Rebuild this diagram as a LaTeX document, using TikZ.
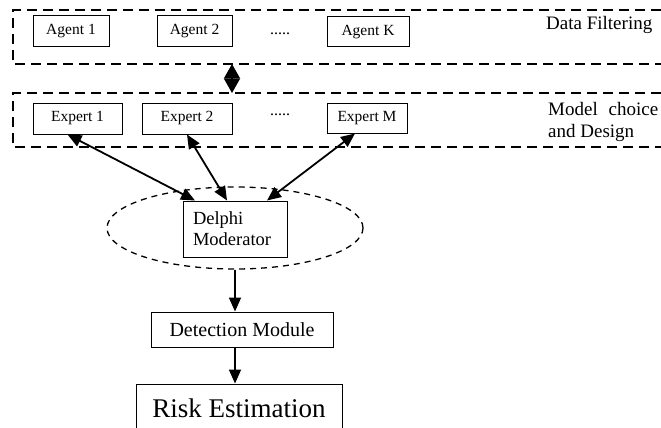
\documentclass[tikz,border=0pt]{standalone}
\usepackage{fontspec}
\setmainfont{Liberation Serif}
\usetikzlibrary{arrows.meta,shapes.geometric}

\begin{document}
\begin{tikzpicture}[x=1pt,y=-1pt,
    box/.style={draw,line width=1pt,inner sep=0pt,
      font=\fontsize{15.5}{18}\selectfont},
    lane/.style={line width=1.4pt,dash pattern=on 10pt off 6pt},
    tag/.style={anchor=base west,inner sep=0pt,
      font=\fontsize{19}{22}\selectfont},
    dots/.style={anchor=base,inner sep=0pt,
      font=\fontsize{16}{18}\selectfont},
    link/.style={line width=1.8pt,
      {Triangle[length=14pt,width=12pt]}-{Triangle[length=14pt,width=12pt]}},
    flow/.style={line width=1.8pt,-{Triangle[length=14pt,width=12pt]}}]

  \clip (0,0) rectangle (661,428);
  \fill[white] (0,0) rectangle (661,428);

  % data filtering lane
  \draw[lane] (661,10) -- (13,10) -- (13,64) -- (661,64);
  \node[box,minimum width=76pt,minimum height=31pt] (a1) at (71,31.5) {Agent 1};
  \node[box,minimum width=75pt,minimum height=31pt] (a2) at (194.5,31.5) {Agent 2};
  \node[dots] (adots) at (280,35) {.....};
  \node[box,minimum width=82pt,minimum height=30pt] (aK) at (368,32) {Agent K};
  \node[tag] (filt) at (546,30) {Data Filtering};

  % model choice lane
  \draw[lane] (661,93) -- (13,93) -- (13,147) -- (661,147);
  \node[box,minimum width=89pt,minimum height=31pt] (e1) at (77.5,118.5) {Expert 1};
  \node[box,minimum width=90pt,minimum height=31pt] (e2) at (187,118.5) {Expert 2};
  \node[dots] (edots) at (280,115) {.....};
  \node[box,minimum width=80pt,minimum height=30pt] (eM) at (367,118) {Expert M};
  \node[tag] (model) at (548,115) {\makebox[110pt][s]{Model choice}};
  \node[tag] (design) at (548,137) {and Design};

  % exchange between the lanes
  \coordinate (upper) at (232,64);
  \coordinate (lower) at (232,93);
  \draw[line width=1.5pt,
    {Triangle[length=14.5pt,width=16pt]}-{Triangle[length=14.5pt,width=16pt]}]
    (upper) -- (lower);

  % moderator
  \node[draw,ellipse,line width=1.3pt,dash pattern=on 6pt off 5pt,
    minimum width=256pt,minimum height=82pt] (ring) at (235,228) {};
  \node[box,font=\fontsize{18.5}{21}\selectfont,align=left,text width=84pt,
    minimum width=104pt,minimum height=56pt] (dm) at (235,229)
    {Delphi\\Moderator};

  \draw[link] ([xshift=-10pt]e1.south) -- ([xshift=-40pt]dm.north);
  \draw[link] (e2.south) -- ([xshift=-8pt]dm.north);
  \draw[link] ([xshift=-12pt]eM.south) -- ([xshift=32pt]dm.north);

  % detection and risk
  \node[box,font=\fontsize{20}{24}\selectfont,
    minimum width=182pt,minimum height=35pt] (det) at (242,329.5)
    {Detection Module};
  \node[box,font=\fontsize{27}{30}\selectfont,
    minimum width=206pt,minimum height=48pt] (risk) at (239,408)
    {Risk Estimation};

  \draw[flow] (ring.south) -- (ring.south |- det.north);
  \draw[flow] (det.south -| ring.south) -- (risk.north -| ring.south);
\end{tikzpicture}
\end{document}
